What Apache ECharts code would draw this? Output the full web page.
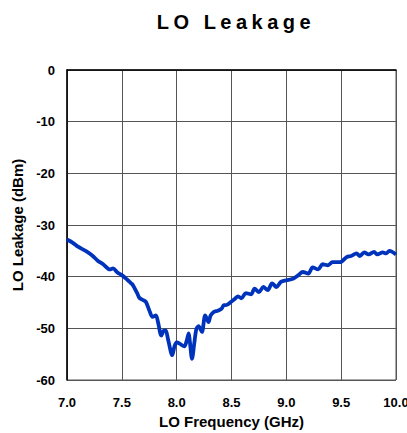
<!DOCTYPE html>
<html>
<head>
<meta charset="utf-8">
<script src="https://cdn.jsdelivr.net/npm/echarts@6/dist/echarts.min.js"></script>
<style>
  html, body { margin: 0; padding: 0; background: #fff; }
  #chart { width: 407px; height: 433px; }
</style>
</head>
<body>
<div id="chart"></div>
<script>
// LO frequency (GHz) and leakage (dBm)
const freq = [7.00, 7.05, 7.10, 7.17, 7.23, 7.28, 7.33, 7.39, 7.42, 7.46, 7.50, 7.55, 7.585, 7.60, 7.64, 7.66,
  7.70, 7.72, 7.75, 7.78, 7.81, 7.83, 7.86, 7.88, 7.90, 7.92, 7.96, 7.98, 8.00, 8.03, 8.07, 8.09, 8.11, 8.12,
  8.14, 8.16, 8.18, 8.20, 8.23, 8.26, 8.29, 8.31, 8.34, 8.375, 8.41, 8.43, 8.45, 8.50, 8.53, 8.56, 8.59, 8.63,
  8.68, 8.71, 8.75, 8.79, 8.83, 8.87, 8.91, 8.95, 9.00, 9.06, 9.11, 9.15, 9.20, 9.24, 9.29, 9.33, 9.38, 9.42,
  9.49, 9.55, 9.59, 9.64, 9.67, 9.71, 9.75, 9.80, 9.83, 9.88, 9.91, 9.94, 10.00];
const leakage = [-32.8, -33.4, -34.2, -35.0, -35.9, -36.9, -37.6, -38.6, -38.4, -39.2, -39.7, -40.6, -41.3, -41.6, -43.2, -44.1,
  -44.6, -44.9, -46.5, -47.8, -47.5, -48.8, -51.4, -50.5, -50.4, -52.0, -55.2, -53.5, -52.7, -53.0, -53.5, -52.5, -51.0, -52.5,
  -55.9, -53.0, -50.1, -49.6, -50.7, -47.5, -48.8, -47.5, -46.8, -46.6, -46.2, -45.5, -45.5, -44.8, -44.3, -43.8, -44.2, -43.2,
  -43.4, -42.3, -43.0, -42.0, -42.6, -41.3, -42.0, -41.0, -40.7, -40.4, -39.7, -39.1, -39.4, -38.2, -38.6, -37.6, -37.8, -37.2,
  -37.2, -36.2, -36.0, -35.5, -36.0, -35.3, -35.7, -35.2, -35.7, -35.3, -35.5, -35.0, -35.7];

const font = '"Liberation Sans", Arial, sans-serif';
const chart = echarts.init(document.getElementById('chart'), null, { renderer: 'svg' });

chart.setOption({
  animation: false,
  title: {
    text: 'LO Leakage',
    left: 231,
    textAlign: 'center',
    top: 7,
    textStyle: { fontFamily: font, fontSize: 20, fontWeight: 'bold', color: '#000' }
  },
  grid: {
    left: 67, right: 11, top: 70, bottom: 53,
    outerBoundsMode: 'none',
    show: true, borderColor: '#555', borderWidth: 1
  },
  xAxis: {
    type: 'value',
    min: 7, max: 10, interval: 0.5,
    name: 'LO Frequency (GHz)',
    nameLocation: 'middle',
    nameGap: 33,
    nameTextStyle: { fontFamily: font, fontSize: 15, fontWeight: 'bold', color: '#000' },
    axisLine: { show: true, lineStyle: { color: '#000', width: 1.5 } },
    axisTick: { show: false },
    axisLabel: {
      fontFamily: font, fontSize: 13, fontWeight: 'bold', color: '#000', margin: 16,
      formatter: v => v.toFixed(1)
    },
    splitLine: { show: true, lineStyle: { color: '#555', width: 1 } }
  },
  yAxis: {
    type: 'value',
    min: -60, max: 0, interval: 10,
    name: 'LO Leakage (dBm)',
    nameLocation: 'middle',
    nameGap: 41,
    nameTextStyle: { fontFamily: font, fontSize: 15, fontWeight: 'bold', color: '#000' },
    axisLine: { show: true, lineStyle: { color: '#000', width: 1.5 } },
    axisTick: { show: false },
    axisLabel: { fontFamily: font, fontSize: 13, fontWeight: 'bold', color: '#000', margin: 12 },
    splitLine: { show: true, lineStyle: { color: '#555', width: 1 } }
  },
  series: [{
    type: 'line',
    data: freq.map((f, i) => [f, leakage[i]]),
    showSymbol: false,
    smooth: 0.3,
    lineStyle: { color: '#0033bb', width: 3.8 }
  }]
});

// spread the title letters like the original
document.querySelectorAll('#chart svg text').forEach(t => {
  if (t.textContent === 'LO Leakage') t.setAttribute('letter-spacing', '4.5px');
});
</script>
</body>
</html>
